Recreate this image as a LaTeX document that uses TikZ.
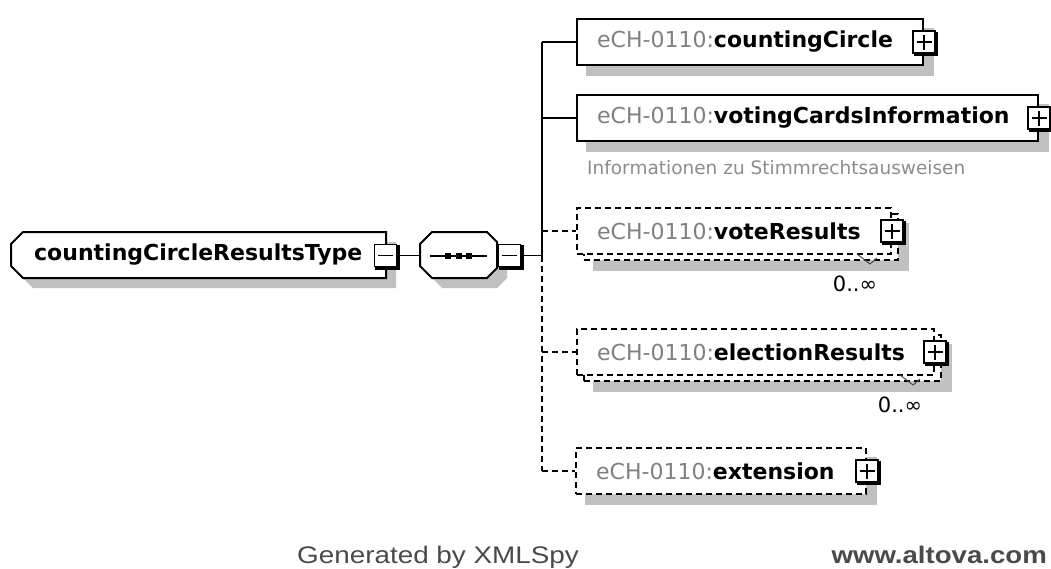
\documentclass[tikz,border=0pt]{standalone}
\usepackage{fontspec}
\usepackage{graphicx}
\setmainfont{DejaVu Sans}
\newfontfamily\footfont{Liberation Sans}
\usetikzlibrary{backgrounds}
\definecolor{shade}{HTML}{C0C0C0}
\definecolor{nsgray}{HTML}{808080}
\definecolor{notegray}{HTML}{8C8C8C}
\definecolor{footgray}{HTML}{4A4A4A}

% expand/collapse square: name, centre, draw the vertical stroke (1) or not (0)
\newcommand\pmsquare[3]{%
  \node[pmsq] (#1) at (#2) {};
  \draw[line width=3.4pt] ([xshift=0.9pt,yshift=-1.4pt]#1.north east) -- ([xshift=0.9pt,yshift=-0.9pt]#1.south east) -- ([xshift=1.4pt,yshift=-0.9pt]#1.south west);
  \draw[line width=1.7pt] ([xshift=-7.5pt]#1.center) -- ([xshift=7.5pt]#1.center);
  \ifnum#3=1 \draw[line width=1.7pt] ([yshift=-7.5pt]#1.center) -- ([yshift=7.5pt]#1.center);\fi
}

\begin{document}
\begin{tikzpicture}[x=1pt,y=-1pt,
  edge/.style={line width=1.8pt},
  optional/.style={dash pattern=on 6pt off 4pt},
  elbox/.style={draw, line width=2pt, fill=white, minimum width=#1,
    minimum height=46pt, inner sep=0pt, anchor=north west},
  pmsq/.style={draw, line width=1.6pt, fill=white, minimum size=22pt, inner sep=0pt},
  lbl/.style={anchor=west, inner sep=0pt, font=\fontsize{22}{24}\selectfont},
  note/.style={anchor=west, inner sep=0pt, text=notegray, font=\fontsize{18.5}{22}\selectfont},
  occurs/.style={inner sep=0pt, font=\fontsize{21}{22}\selectfont},
  occmark/.style={line width=1pt, draw=black!70},
  shadowfill/.style={fill=shade},
  footer/.style={inner sep=0pt, text=footgray}
]
\useasboundingbox (0,0) rectangle (1051,568);

% ---------- root complex type ----------
\fill[shadowfill] (33,242) -- (396,242) -- (396,288) -- (33,288) -- (21,276) -- (21,254) -- cycle;
\draw[line width=2pt, fill=white] (23,232) -- (386,232) -- (386,278) -- (23,278) -- (11,266) -- (11,244) -- cycle;
\node[lbl] (rootlbl) at (34,255) {\textbf{countingCircleResultsType}};
\pmsquare{rootpm}{385.5,255.5}{0}

% ---------- sequence compositor ----------
\fill[shadowfill] (442,242) -- (497,242) -- (507,252) -- (507,278) -- (497,288) -- (442,288) -- (430,276) -- (430,254) -- cycle;
\draw[line width=2pt, fill=white] (432,232) -- (487,232) -- (497,242) -- (497,268) -- (487,278) -- (432,278) -- (420,266) -- (420,244) -- cycle;
\coordinate (seqin) at (420,255.5);
\draw[line width=1.5pt] (430,256) -- (487,256);
\foreach \sx in {448,459,469} \fill (\sx-3,253) rectangle (\sx+3,259);
\pmsquare{seqpm}{509.5,255.5}{0}

\draw[edge] (rootpm.east) -- (seqin);

% ---------- child elements ----------
% countingCircle
\node[elbox=346pt] (cc) at (576,18) {};
\node[lbl] (cclbl) at ([xshift=21pt]cc.west) {\textcolor{nsgray}{eCH-0110:}\textbf{countingCircle}};
\pmsquare{ccpm}{cc.east}{1}

% votingCardsInformation
\node[elbox=461pt] (vci) at (576,94) {};
\node[lbl] (vcilbl) at ([xshift=21pt]vci.west) {\textcolor{nsgray}{eCH-0110:}\textbf{votingCardsInformation}};
\pmsquare{vcipm}{vci.east}{1}
\node[note] (vcinote) at (587,168) {Informationen zu Stimmrechtsausweisen};

% voteResults (0..unbounded)
\node[elbox=314pt, optional] (vrback) at (583,213) {};
\node[elbox=314pt, optional] (vr) at (576,207) {};
\node[lbl] (vrlbl) at ([xshift=21pt]vr.west) {\textcolor{nsgray}{eCH-0110:}\textbf{voteResults}};
\pmsquare{vrpm}{vr.east}{1}
\draw[occmark] (857,254) -- (870,264) -- (877,258);
\node[occurs] (vrocc) at (855,284) {0..∞};

% electionResults (0..unbounded)
\node[elbox=357pt, optional] (erback) at (583,334) {};
\node[elbox=357pt, optional] (er) at (576,328) {};
\node[lbl] (erlbl) at ([xshift=21pt]er.west) {\textcolor{nsgray}{eCH-0110:}\textbf{electionResults}};
\pmsquare{erpm}{er.east}{1}
\draw[occmark] (900,375) -- (913,385) -- (920,379);
\node[occurs] (erocc) at (900,405) {0..∞};

% extension
\node[elbox=290pt, optional] (ext) at (575,447) {};
\node[lbl] (extlbl) at ([xshift=21pt]ext.west) {\textcolor{nsgray}{eCH-0110:}\textbf{extension}};
\pmsquare{extpm}{ext.east}{1}

% drop shadows behind the element boxes
\begin{scope}[on background layer]
  \foreach \b in {cc,vci,vrback,erback,ext}
    \fill[shadowfill] ([shift={(10,10)}]\b.north west) rectangle ([shift={(10,10)}]\b.south east);
\end{scope}

% ---------- connectors ----------
\coordinate (bustop) at (542,0 |- cc.west);
\coordinate (busmid) at (542,255.5);
\coordinate (busbot) at (542,0 |- ext.west);
\draw[edge] (seqpm.east) -- (busmid);
\draw[edge] (bustop) -- (busmid);
\draw[edge, optional] (busmid) -- (busbot);
\draw[edge] (bustop) -- (cc.west);
\draw[edge] (542,0 |- vci.west) -- (vci.west);
\draw[edge, optional] (542,0 |- vr.west) -- (vr.west);
\draw[edge, optional] (542,0 |- er.west) -- (er.west);
\draw[edge, optional] (busbot) -- (ext.west);

% ---------- footer ----------
\node[footer, anchor=base west] (gen) at (297,563)
  {\scalebox{1.16}[1]{\footfont\fontsize{24}{26}\selectfont Generated by XMLSpy}};
\node[footer, anchor=base east] (web) at (1047,563)
  {\scalebox{1.15}[1]{\footfont\bfseries\fontsize{24}{26}\selectfont www.altova.com}};
\end{tikzpicture}
\end{document}
